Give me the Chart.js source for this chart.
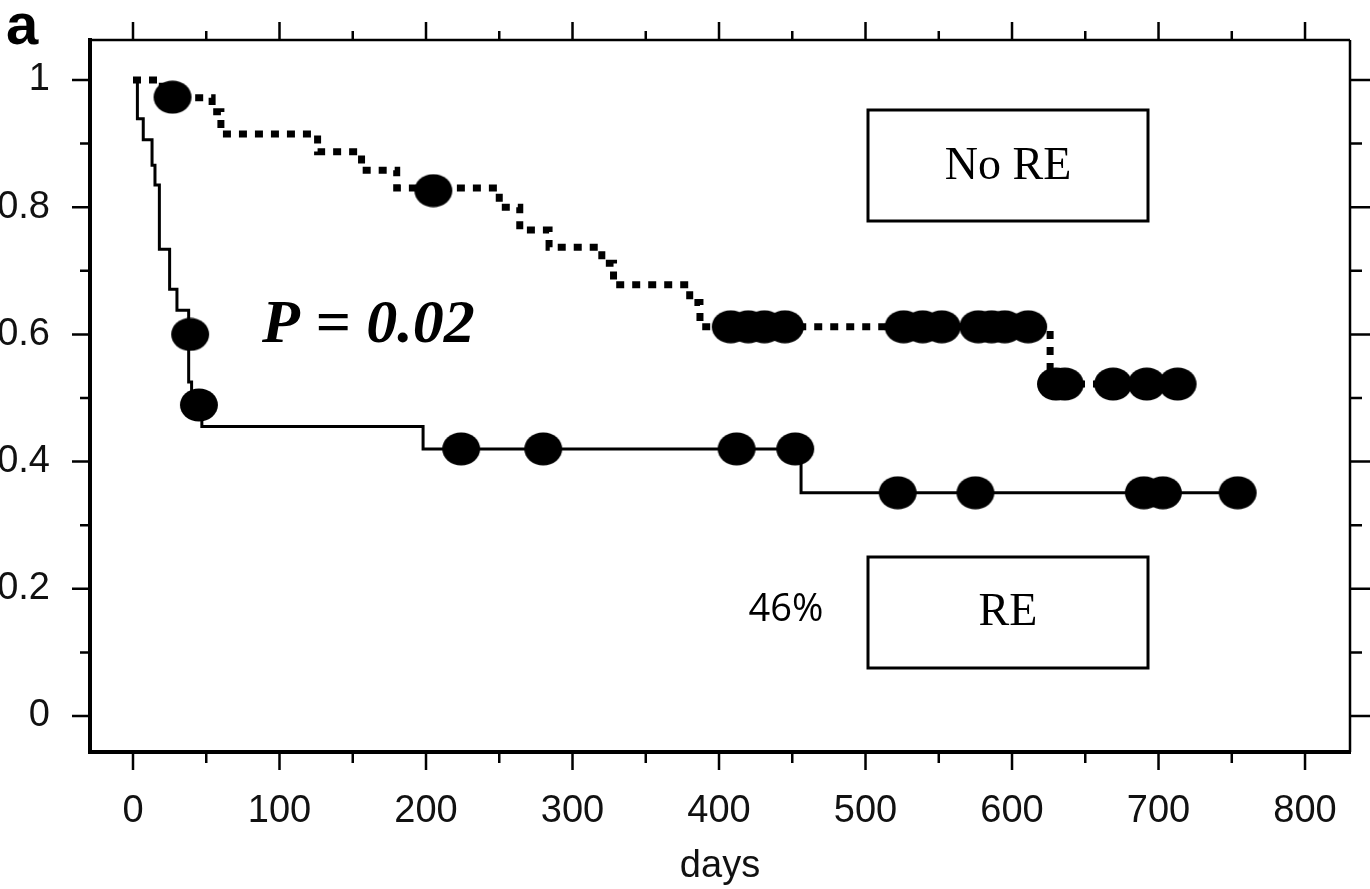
<!DOCTYPE html>
<html>
<head>
<meta charset="utf-8">
<script src="https://cdn.jsdelivr.net/npm/chart.js@4.4.1/dist/chart.umd.min.js"></script>
<style>
  html, body { margin: 0; padding: 0; background: #fff; }
  canvas { display: block; }
</style>
</head>
<body>
<canvas id="myChart" width="1370" height="889"></canvas>
<script>
// Kaplan-Meier steps (days, survival)
var reDays   = [0, 3, 7, 13, 15, 18, 25, 30, 38, 40, 47, 198, 456, 754];
var reSurv   = [1, 0.939, 0.906, 0.866, 0.835, 0.734, 0.671, 0.638, 0.525, 0.49, 0.455, 0.42, 0.351, 0.351];
var reCensDays = [39, 45, 224, 280, 412, 452, 522, 575, 690, 703, 754];
var reCensSurv = [0.60, 0.489, 0.42, 0.42, 0.42, 0.42, 0.351, 0.351, 0.351, 0.351, 0.351];

var noReDays = [0, 20, 54, 60, 126, 156, 180, 250, 264, 284, 320, 328, 380, 387, 626, 713];
var noReSurv = [1, 0.972, 0.95, 0.915, 0.887, 0.858, 0.83, 0.80, 0.764, 0.737, 0.712, 0.678, 0.65, 0.612, 0.522, 0.522];
var noReCensDays = [27, 205, 408, 420, 431, 445, 526, 539, 552, 577, 586, 595, 611, 630, 636, 669, 692, 713];
var noReCensSurv = [0.973, 0.826, 0.612, 0.612, 0.612, 0.612, 0.612, 0.612, 0.612, 0.612, 0.612, 0.612, 0.612, 0.522, 0.522, 0.522, 0.522, 0.522];

var xTicks = [0, 100, 200, 300, 400, 500, 600, 700, 800];
var yTicks = [0, 0.2, 0.4, 0.6, 0.8, 1];

function pts(xs, ys) {
  return xs.map(function (x, i) { return {x: x, y: ys[i]}; });
}

// filled ellipse used as censor mark
var dot = document.createElement('canvas');
dot.width = 40; dot.height = 34;
var dctx = dot.getContext('2d');
dctx.fillStyle = '#000';
dctx.beginPath();
dctx.ellipse(20, 17, 19, 16.5, 0, 0, Math.PI * 2);
dctx.fill();

var tickFont = {family: 'Liberation Sans', size: 38};

// invisible tick marks only push the labels away from the frame
function hiddenGrid(len) {
  return {display: true, drawOnChartArea: false, drawTicks: true, tickLength: len,
          color: 'rgba(0,0,0,0)', tickColor: 'rgba(0,0,0,0)'};
}

// frame, ticks all round and the text notes
var framePlugin = {
  id: 'frame',
  afterDraw: function (chart) {
    var ctx = chart.ctx, a = chart.chartArea;
    var x = chart.scales.x, y = chart.scales.y;
    ctx.save();
    ctx.strokeStyle = '#000';
    ctx.lineCap = 'butt';

    ctx.lineWidth = 2.5;
    ctx.beginPath();
    ctx.moveTo(a.left, a.top); ctx.lineTo(a.right, a.top);
    ctx.moveTo(a.right, a.top); ctx.lineTo(a.right, a.bottom);
    ctx.stroke();
    ctx.lineWidth = 4;
    ctx.beginPath();
    ctx.moveTo(a.left, a.top - 2); ctx.lineTo(a.left, a.bottom);
    ctx.lineTo(a.right + 1, a.bottom);
    ctx.stroke();

    ctx.lineWidth = 2.5;
    ctx.beginPath();
    for (var d = 0; d <= 800; d += 50) {
      var px = x.getPixelForValue(d);
      var big = d % 100 === 0;
      ctx.moveTo(px, a.bottom); ctx.lineTo(px, a.bottom + (big ? 18 : 11));
      ctx.moveTo(px, a.top); ctx.lineTo(px, a.top - (big ? 18 : 9));
    }
    for (var k = 0; k <= 10; k++) {
      var py = y.getPixelForValue(k / 10);
      var bigy = k % 2 === 0;
      ctx.moveTo(a.left, py); ctx.lineTo(a.left - (bigy ? 18 : 10), py);
      ctx.moveTo(a.right, py); ctx.lineTo(a.right + (bigy ? 22 : 12), py);
    }
    ctx.stroke();

    ctx.fillStyle = '#000';
    ctx.textBaseline = 'alphabetic';
    ctx.textAlign = 'left';
    ctx.font = 'bold 58px "Liberation Sans"';
    ctx.fillText('a', 6, 44);

    ctx.font = 'italic bold 62px "Liberation Serif"';
    ctx.fillText('P = 0.02', 262, 342);

    ctx.lineWidth = 3;
    ctx.strokeRect(868, 110, 280, 111);
    ctx.strokeRect(868, 557, 280, 111);
    ctx.textAlign = 'center';
    ctx.textBaseline = 'middle';
    ctx.font = '46px "Liberation Serif"';
    ctx.fillText('No RE', 1008, 167);
    ctx.fillText('RE', 1008, 613);

    ctx.font = '38px "Open Sans"';
    ctx.fillText('46%', 786, 610);
    ctx.restore();
  }
};

new Chart(document.getElementById('myChart'), {
  type: 'line',
  data: {
    datasets: [
      {
        label: 'RE censored', type: 'scatter', data: pts(reCensDays, reCensSurv),
        pointStyle: dot, pointRadius: 16, order: 0
      },
      {
        label: 'No RE censored', type: 'scatter', data: pts(noReCensDays, noReCensSurv),
        pointStyle: dot, pointRadius: 16, order: 0
      },
      {
        label: 'RE', data: pts(reDays, reSurv), stepped: 'before',
        borderColor: '#000', borderWidth: 3, pointRadius: 0, fill: false, order: 1
      },
      {
        label: 'No RE', data: pts(noReDays, noReSurv), stepped: 'before',
        borderColor: '#000', borderWidth: 7, borderDash: [8, 8], borderCapStyle: 'butt',
        pointRadius: 0, fill: false, order: 1
      }
    ]
  },
  options: {
    responsive: false,
    animation: false,
    devicePixelRatio: 1,
    layout: {padding: {top: 40, right: 20, left: 0, bottom: 0}},
    plugins: {legend: {display: false}, tooltip: {enabled: false}},
    scales: {
      x: {
        type: 'linear', min: -29.35, max: 830.7,
        grid: hiddenGrid(37), border: {display: false},
        ticks: {font: tickFont, color: '#111', padding: 0, maxRotation: 0},
        title: {display: true, text: 'days', font: tickFont, color: '#111', padding: 0},
        afterBuildTicks: function (s) { s.ticks = xTicks.map(function (v) { return {value: v}; }); },
        afterFit: function (s) { s.height = 137; }
      },
      y: {
        type: 'linear', min: -0.0566, max: 1.0629,
        grid: hiddenGrid(40), border: {display: false},
        ticks: {
          font: tickFont, color: '#111', padding: 0,
          callback: function (v) { return v === 0 ? '0' : v === 1 ? '1' : v.toFixed(1); }
        },
        afterBuildTicks: function (s) { s.ticks = yTicks.map(function (v) { return {value: v}; }); },
        afterFit: function (s) { s.width = 90; }
      }
    }
  },
  plugins: [framePlugin]
});
</script>
</body>
</html>
